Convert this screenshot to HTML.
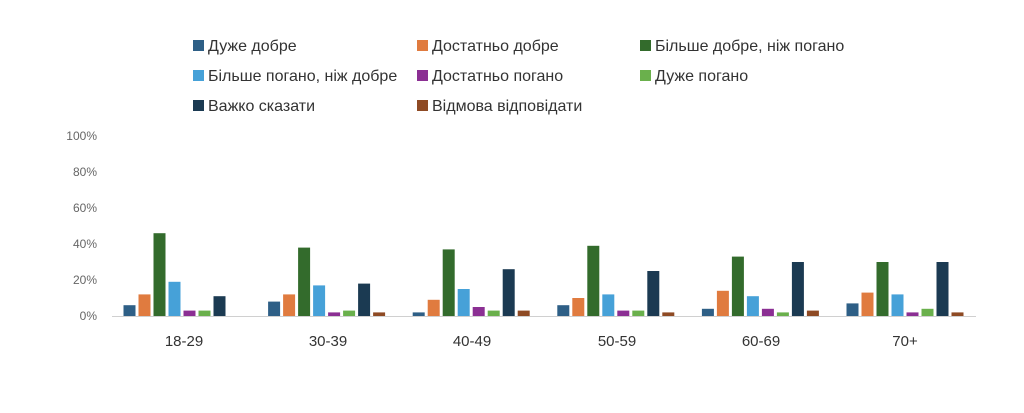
<!DOCTYPE html>
<html><head><meta charset="utf-8"><style>
body{margin:0;background:#fff;}
svg{display:block;font-family:"Liberation Sans","DejaVu Sans",sans-serif;}
</style></head><body>
<svg width="1024" height="413" viewBox="0 0 1024 413" xmlns="http://www.w3.org/2000/svg">
<g font-size="16" fill="#333">
<rect x="193" y="40" width="11" height="11" fill="#2e5f86"/><text x="208" y="51">Дуже добре</text>
<rect x="417" y="40" width="11" height="11" fill="#e07b3f"/><text x="432" y="51">Достатньо добре</text>
<rect x="640" y="40" width="11" height="11" fill="#336b2c"/><text x="655" y="51">Більше добре, ніж погано</text>
<rect x="193" y="70" width="11" height="11" fill="#46a1d8"/><text x="208" y="81">Більше погано, ніж добре</text>
<rect x="417" y="70" width="11" height="11" fill="#8b2f93"/><text x="432" y="81">Достатньо погано</text>
<rect x="640" y="70" width="11" height="11" fill="#6ab04c"/><text x="655" y="81">Дуже погано</text>
<rect x="193" y="100" width="11" height="11" fill="#1b3a52"/><text x="208" y="111">Важко сказати</text>
<rect x="417" y="100" width="11" height="11" fill="#8e4a24"/><text x="432" y="111">Відмова відповідати</text>
</g>
<g font-size="12" fill="#666" text-anchor="end">
<text x="97" y="320">0%</text><text x="97" y="284">20%</text><text x="97" y="248">40%</text>
<text x="97" y="212">60%</text><text x="97" y="176">80%</text><text x="97" y="140">100%</text>
</g>
<line x1="112" y1="316.5" x2="976" y2="316.5" stroke="#d0d0d0" stroke-width="1"/>
<g transform="translate(123.5,0)">
<rect x="0" y="305.2" width="12" height="10.8" fill="#2e5f86"/>
<rect x="15" y="294.4" width="12" height="21.6" fill="#e07b3f"/>
<rect x="30" y="233.2" width="12" height="82.8" fill="#336b2c"/>
<rect x="45" y="281.8" width="12" height="34.2" fill="#46a1d8"/>
<rect x="60" y="310.6" width="12" height="5.4" fill="#8b2f93"/>
<rect x="75" y="310.6" width="12" height="5.4" fill="#6ab04c"/>
<rect x="90" y="296.2" width="12" height="19.8" fill="#1b3a52"/>
</g>
<g transform="translate(268.1,0)">
<rect x="0" y="301.6" width="12" height="14.4" fill="#2e5f86"/>
<rect x="15" y="294.4" width="12" height="21.6" fill="#e07b3f"/>
<rect x="30" y="247.6" width="12" height="68.4" fill="#336b2c"/>
<rect x="45" y="285.4" width="12" height="30.6" fill="#46a1d8"/>
<rect x="60" y="312.4" width="12" height="3.6" fill="#8b2f93"/>
<rect x="75" y="310.6" width="12" height="5.4" fill="#6ab04c"/>
<rect x="90" y="283.6" width="12" height="32.4" fill="#1b3a52"/>
<rect x="105" y="312.4" width="12" height="3.6" fill="#8e4a24"/>
</g>
<g transform="translate(412.7,0)">
<rect x="0" y="312.4" width="12" height="3.6" fill="#2e5f86"/>
<rect x="15" y="299.8" width="12" height="16.2" fill="#e07b3f"/>
<rect x="30" y="249.4" width="12" height="66.6" fill="#336b2c"/>
<rect x="45" y="289" width="12" height="27" fill="#46a1d8"/>
<rect x="60" y="307" width="12" height="9" fill="#8b2f93"/>
<rect x="75" y="310.6" width="12" height="5.4" fill="#6ab04c"/>
<rect x="90" y="269.2" width="12" height="46.8" fill="#1b3a52"/>
<rect x="105" y="310.6" width="12" height="5.4" fill="#8e4a24"/>
</g>
<g transform="translate(557.3,0)">
<rect x="0" y="305.2" width="12" height="10.8" fill="#2e5f86"/>
<rect x="15" y="298" width="12" height="18" fill="#e07b3f"/>
<rect x="30" y="245.8" width="12" height="70.2" fill="#336b2c"/>
<rect x="45" y="294.4" width="12" height="21.6" fill="#46a1d8"/>
<rect x="60" y="310.6" width="12" height="5.4" fill="#8b2f93"/>
<rect x="75" y="310.6" width="12" height="5.4" fill="#6ab04c"/>
<rect x="90" y="271" width="12" height="45" fill="#1b3a52"/>
<rect x="105" y="312.4" width="12" height="3.6" fill="#8e4a24"/>
</g>
<g transform="translate(701.9,0)">
<rect x="0" y="308.8" width="12" height="7.2" fill="#2e5f86"/>
<rect x="15" y="290.8" width="12" height="25.2" fill="#e07b3f"/>
<rect x="30" y="256.6" width="12" height="59.4" fill="#336b2c"/>
<rect x="45" y="296.2" width="12" height="19.8" fill="#46a1d8"/>
<rect x="60" y="308.8" width="12" height="7.2" fill="#8b2f93"/>
<rect x="75" y="312.4" width="12" height="3.6" fill="#6ab04c"/>
<rect x="90" y="262" width="12" height="54" fill="#1b3a52"/>
<rect x="105" y="310.6" width="12" height="5.4" fill="#8e4a24"/>
</g>
<g transform="translate(846.5,0)">
<rect x="0" y="303.4" width="12" height="12.6" fill="#2e5f86"/>
<rect x="15" y="292.6" width="12" height="23.4" fill="#e07b3f"/>
<rect x="30" y="262" width="12" height="54" fill="#336b2c"/>
<rect x="45" y="294.4" width="12" height="21.6" fill="#46a1d8"/>
<rect x="60" y="312.4" width="12" height="3.6" fill="#8b2f93"/>
<rect x="75" y="308.8" width="12" height="7.2" fill="#6ab04c"/>
<rect x="90" y="262" width="12" height="54" fill="#1b3a52"/>
<rect x="105" y="312.4" width="12" height="3.6" fill="#8e4a24"/>
</g>
<g font-size="15" fill="#333" text-anchor="middle">
<text x="184" y="346">18-29</text><text x="328" y="346">30-39</text><text x="472" y="346">40-49</text>
<text x="617" y="346">50-59</text><text x="761" y="346">60-69</text><text x="905" y="346">70+</text>
</g>
</svg>
</body></html>
